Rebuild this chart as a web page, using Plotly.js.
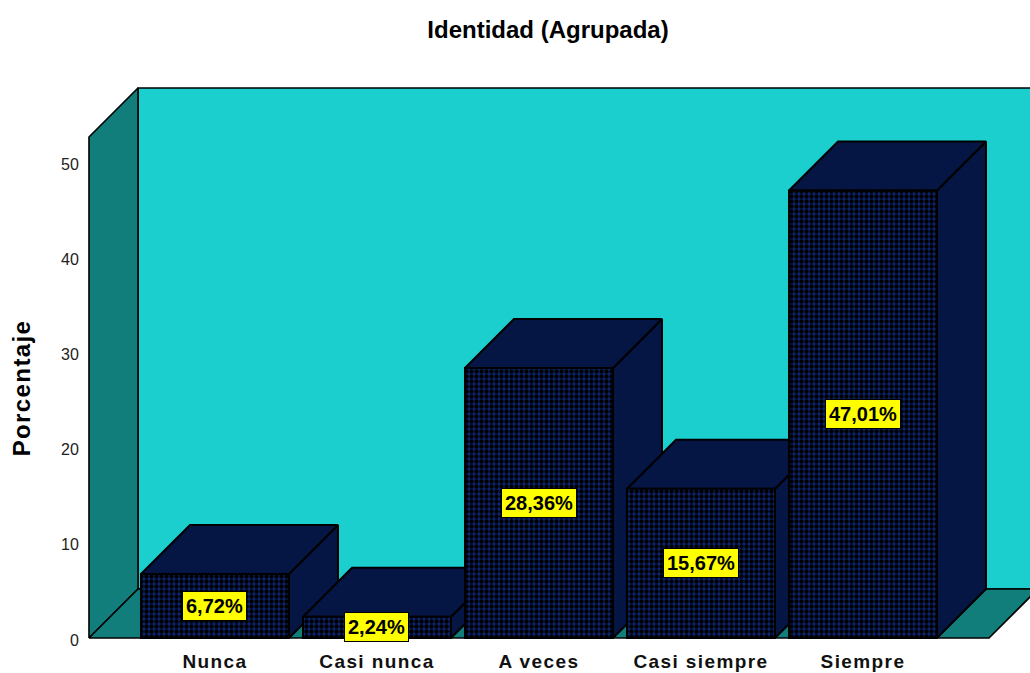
<!DOCTYPE html>
<html><head><meta charset="utf-8">
<script src="https://cdn.plot.ly/plotly-3.0.1.min.js"></script>
<style>html,body{margin:0;padding:0;background:#fff}
.xtick text{letter-spacing:1.4px}
.y3title{letter-spacing:1.4px}
</style>
</head><body><div id="chart" style="width:1030px;height:673px"></div>
<script>
const categories = ["Nunca","Casi nunca","A veces","Casi siempre","Siempre"];
const values = [6.72,2.24,28.36,15.67,47.01];
const valueLabels = ["6,72%","2,24%","28,36%","15,67%","47,01%"];
const yTicks = [0,10,20,30,40,50];

const barWidth = 148/162, depthX = 49/162, depthY = 49/9.52;
const floorL = -0.7778, floorR = 4.7778, wallTop = 57.77, sideTop = wallTop - depthY;
const WALL = "#1CCFCF", SIDE = "#127E7B", FACE = "#051645", EDGE = "#000000";

function poly(xs, ys, fill, w){
  return {type:"scatter", mode:"lines", x:xs.concat(xs[0]), y:ys.concat(ys[0]), fill:"toself",
    fillcolor:fill, line:{color:EDGE, width:w||1.6}, hoverinfo:"skip", showlegend:false, xaxis:"x", yaxis:"y"};
}
const traces = [];
traces.push(poly([floorL+depthX,floorR+depthX,floorR+depthX,floorL+depthX],[depthY,depthY,wallTop,wallTop],WALL));
traces.push(poly([floorL,floorL+depthX,floorL+depthX,floorL],[0,depthY,wallTop,sideTop],SIDE));
traces.push(poly([floorL,floorR,floorR+depthX,floorL+depthX],[0,0,depthY,depthY],SIDE));
values.forEach((v,i)=>{
  const l=i-barWidth/2, r=i+barWidth/2;
  traces.push(poly([r,r+depthX,r+depthX,r],[0,depthY,v+depthY,v],FACE,2));
  traces.push(poly([l,r,r+depthX,l+depthX],[v,v,v+depthY,v+depthY],FACE,2));
});
traces.push({type:"bar", x:categories.map((c,i)=>i), y:values, width:barWidth, xaxis:"x", yaxis:"y3",
  marker:{color:"#0B2470", line:{color:EDGE,width:2},
    pattern:{shape:".", size:5, solidity:0.6, fgcolor:"#000000", bgcolor:"#0B2470", fillmode:"replace"}},
  hoverinfo:"skip", showlegend:false});

const xr=[-0.8086,5.0309];
const layout = {
  width:1030, height:673, paper_bgcolor:"#fff", plot_bgcolor:"rgba(0,0,0,0)",
  margin:{l:84,r:0,t:84,b:31,pad:0}, barmode:"overlay",
  font:{family:"Liberation Sans, Arial, sans-serif", color:"#000"},
  title:{text:"<b>Identidad (Agrupada)</b>", x:(548-84)/946, xref:"paper", xanchor:"center", y:1-30/673, yref:"container", yanchor:"middle",
    font:{size:24, color:"#000"}},
  xaxis:{range:xr, tickmode:"array", tickvals:categories.map((c,i)=>i), ticktext:categories.map(c=>"<b>"+c+"</b>"),
    showgrid:false, zeroline:false, showline:false, ticks:"outside", ticklen:2, tickcolor:"rgba(0,0,0,0)",
    tickfont:{size:19,color:"#111"}},
  yaxis:{range:[-0.42,58.19], domain:[0,1], visible:false, anchor:"x"},
  yaxis3:{range:[-0.42,52.94], domain:[0,508/558], anchor:"x", tickmode:"array", tickvals:yTicks, showgrid:false, zeroline:false, showline:false,
    ticks:"outside", ticklen:1, tickcolor:"rgba(0,0,0,0)", ticklabelshift:2, tickfont:{size:16,color:"#222"},
    title:{text:"<b>Porcentaje</b>", standoff:23, font:{size:24,color:"#000"}}},
  annotations: values.map((v,i)=>({x:i, y:v/2, xref:"x", yref:"y3", text:"<b>"+valueLabels[i]+"</b>", showarrow:false,
    bgcolor:"#FFFF00", bordercolor:"#000", borderwidth:1, borderpad:3, font:{size:20,color:"#000"}}))
};
Plotly.newPlot("chart", traces, layout, {displayModeBar:false, staticPlot:true});
</script></body></html>
